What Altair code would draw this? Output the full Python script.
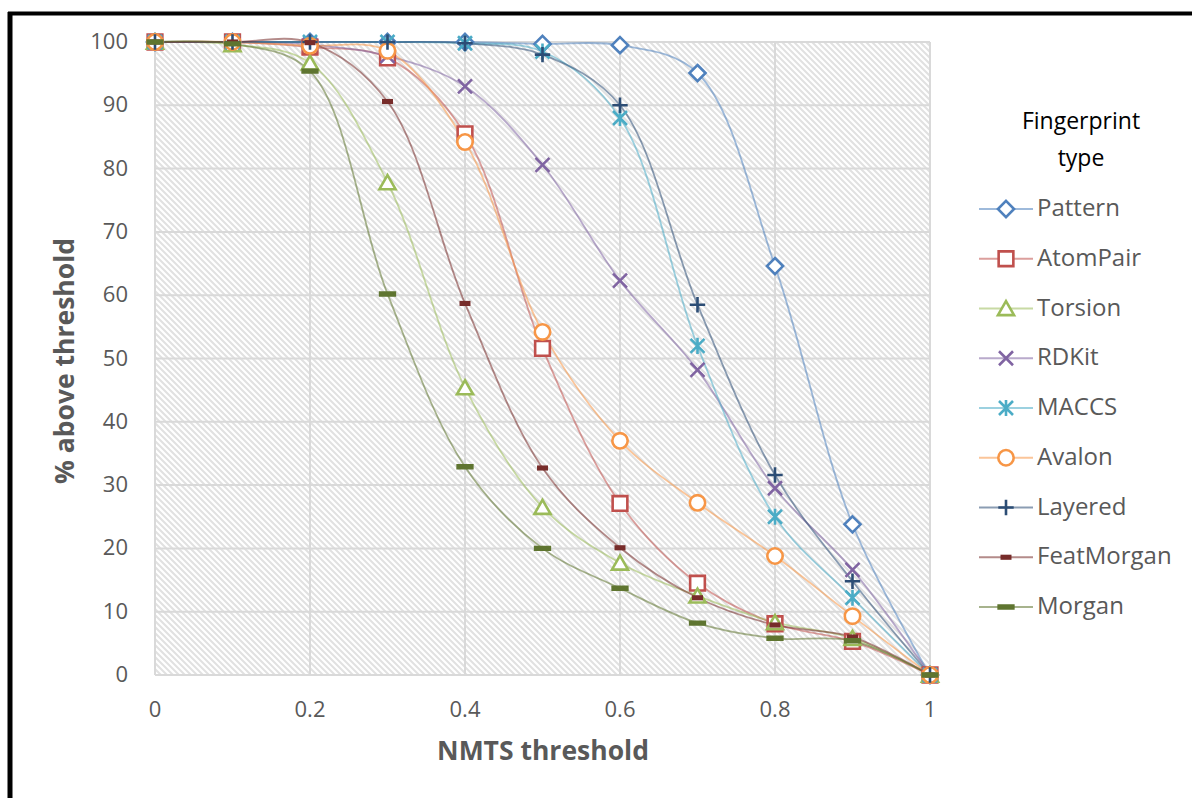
import altair as alt
import numpy as np
import pandas as pd

# NMTS threshold values (x) and % of pairs above each threshold, per fingerprint
thresholds = [0.0, 0.1, 0.2, 0.3, 0.4, 0.5, 0.6, 0.7, 0.8, 0.9, 1.0]

series_names = ["Pattern", "AtomPair", "Torsion", "RDKit", "MACCS",
                "Avalon", "Layered", "FeatMorgan", "Morgan"]

pattern    = [100, 100, 100, 100, 100, 99.7, 99.5, 95.1, 64.6, 23.8, 0]
atompair   = [100, 100, 99.2, 97.5, 85.5, 51.6, 27.1, 14.5, 8.1, 5.3, 0]
torsion    = [100, 99.6, 96.7, 77.8, 45.4, 26.5, 17.7, 12.5, 8.3, 5.8, 0]
rdkit      = [100, 100, 99.6, 97.8, 93.0, 80.6, 62.3, 48.2, 29.5, 16.6, 0]
maccs      = [100, 100, 100, 100, 99.8, 98.5, 88.0, 52.0, 25.0, 12.2, 0]
avalon     = [100, 100, 99.4, 98.6, 84.2, 54.2, 37.0, 27.2, 18.8, 9.3, 0]
layered    = [100, 100, 100, 100, 99.8, 98.0, 90.0, 58.5, 31.6, 14.8, 0]
featmorgan = [100, 100, 99.9, 90.6, 58.7, 32.7, 20.1, 12.2, 7.9, 6.0, 0]
morgan     = [100, 99.7, 95.4, 60.2, 32.9, 20.0, 13.7, 8.2, 5.8, 5.4, 0]

all_values = [pattern, atompair, torsion, rdkit, maccs,
              avalon, layered, featmorgan, morgan]

series_colors = ["#4F81BD", "#C0504D", "#9BBB59", "#8064A2", "#4BACC6",
                 "#F79646", "#2C4D75", "#772C2A", "#5F7530"]

# marker outlines (unit paths, scaled by the symbol size)
series_shapes = [
    "M0,-1.15L1.15,0L0,1.15L-1.15,0Z",                              # diamond
    "M-1.05,-1.05L1.05,-1.05L1.05,1.05L-1.05,1.05Z",                # square
    "M0,-1.05L1.15,0.95L-1.15,0.95Z",                               # triangle
    "M-1,-1L1,1M-1,1L1,-1",                                         # x
    "M-1,-1L1,1M-1,1L1,-1M0,-1.15L0,1.15",                          # asterisk
    "M1.1,0A1.1,1.1,0,1,1,-1.1,0A1.1,1.1,0,1,1,1.1,0Z",             # circle
    "M-1.1,0L1.1,0M0,-1.1L0,1.1",                                   # plus
    "M-0.6,-0.18L0.6,-0.18L0.6,0.18L-0.6,0.18Z",                    # short dash
    "M-1.05,-0.2L1.05,-0.2L1.05,0.2L-1.05,0.2Z",                    # long dash
]
# open markers get a white fill, the dashes are solid
series_fills = ["#FFFFFF"] * 7 + ["#772C2A", "#5F7530"]

x_ticks = [0, 0.2, 0.4, 0.6, 0.8, 1.0]
x_tick_labels = ["0", "0.2", "0.4", "0.6", "0.8", "1"]
y_ticks = [0, 10, 20, 30, 40, 50, 60, 70, 80, 90, 100]
y_tick_labels = ["0", "10", "20", "30", "40", "50", "60", "70", "80", "90", "100"]

x_title = "NMTS threshold"
y_title = "% above threshold"
legend_title = "Fingerprint\ntype"

PLOT_W, PLOT_H = 775, 633
TEXT_GRAY = "#595959"
GRID = "#D9D9D9"
FONT = "Open Sans"

rows = []
for name, vals in zip(series_names, all_values):
    for t, v in zip(thresholds, vals):
        rows.append({"series": name, "threshold": t, "pct": v})
df = pd.DataFrame(rows)

xs = alt.Scale(domain=[0, 1], nice=False, zero=False)
ys = alt.Scale(domain=[0, 100], nice=False, zero=False)

stroke_enc = alt.Stroke("series:N", scale=alt.Scale(domain=series_names, range=series_colors), legend=None)
shape_enc = alt.Shape("series:N", scale=alt.Scale(domain=series_names, range=series_shapes), legend=None)
fill_enc = alt.Fill("series:N", scale=alt.Scale(domain=series_names, range=series_fills), legend=None)

# diagonal hatching of the plot background
step = 6
offs = np.arange(-PLOT_H, PLOT_W + step, step)
hatch_df = pd.DataFrame({"x0": offs / PLOT_W, "x1": (offs + PLOT_H) / PLOT_W,
                         "v0": 100.0, "v1": 0.0})

hatch = alt.Chart(hatch_df).mark_rule(clip=True, stroke="#E1E1E1", strokeWidth=2).encode(
    x=alt.X("x0:Q", scale=xs, axis=None), x2="x1:Q",
    y=alt.Y("v0:Q", scale=ys, axis=None), y2="v1:Q",
)

vgrid = alt.Chart(pd.DataFrame({"t": x_ticks})).mark_rule(stroke=GRID, strokeWidth=2).encode(
    x=alt.X("t:Q", scale=xs, axis=None))
hgrid = alt.Chart(pd.DataFrame({"t": y_ticks})).mark_rule(stroke=GRID, strokeWidth=2).encode(
    y=alt.Y("t:Q", scale=ys, axis=None))

# tick labels and axis titles
x_labels = alt.Chart(pd.DataFrame({"t": x_ticks, "lab": x_tick_labels})).mark_text(
    align="center", baseline="middle", font=FONT, fontSize=22, color=TEXT_GRAY).encode(
    x=alt.X("t:Q", scale=xs, axis=None), y=alt.value(668), text="lab:N")
y_labels = alt.Chart(pd.DataFrame({"t": y_ticks, "lab": y_tick_labels})).mark_text(
    align="right", baseline="middle", font=FONT, fontSize=22, color=TEXT_GRAY).encode(
    y=alt.Y("t:Q", scale=ys, axis=None), x=alt.value(-27), text="lab:N")

one = pd.DataFrame({"k": [0]})
x_title_mark = alt.Chart(one).mark_text(
    align="center", baseline="middle", font=FONT, fontSize=26.5, fontWeight="bold",
    color=TEXT_GRAY).encode(x=alt.value(388), y=alt.value(710), text=alt.value(x_title))
y_title_mark = alt.Chart(one).mark_text(
    align="center", baseline="middle", font=FONT, fontSize=26.5, fontWeight="bold",
    color=TEXT_GRAY, angle=270).encode(x=alt.value(-89), y=alt.value(319), text=alt.value(y_title))

lines = alt.Chart(df).mark_line(interpolate="catmull-rom", strokeWidth=1.8,
                                strokeOpacity=0.55).encode(
    x=alt.X("threshold:Q", scale=xs, axis=None),
    y=alt.Y("pct:Q", scale=ys, axis=None),
    stroke=stroke_enc,
    detail="series:N",
)

points = alt.Chart(df).mark_point(filled=False, size=196, strokeWidth=2.6, opacity=1).encode(
    x=alt.X("threshold:Q", scale=xs, axis=None),
    y=alt.Y("pct:Q", scale=ys, axis=None),
    stroke=stroke_enc,
    shape=shape_enc,
    fill=fill_enc,
)

# legend drawn beside the plot, one row per series
leg_df = pd.DataFrame({"series": series_names, "row": list(range(len(series_names)))})
leg_y = alt.Y("row:Q", scale=alt.Scale(domain=[0, len(series_names) - 1], range=[167, 565]),
              axis=None)

leg_lines = alt.Chart(leg_df).mark_rule(strokeWidth=2, strokeOpacity=0.55).encode(
    x=alt.value(824), x2=alt.value(878), y=leg_y, stroke=stroke_enc)
leg_points = alt.Chart(leg_df).mark_point(filled=False, size=196, strokeWidth=2.6, opacity=1).encode(
    x=alt.value(851), y=leg_y, stroke=stroke_enc, shape=shape_enc, fill=fill_enc)
leg_text = alt.Chart(leg_df).mark_text(align="left", baseline="middle", font=FONT,
                                       fontSize=24, color=TEXT_GRAY).encode(
    x=alt.value(882), y=leg_y, text="series:N")

leg_title = alt.Chart(one).mark_text(align="center", baseline="middle", font=FONT,
                                     fontSize=23, color="#000000", lineBreak="\n",
                                     lineHeight=37).encode(
    x=alt.value(926), y=alt.value(80), text=alt.value(legend_title))

# frame around the figure
frame_top = alt.Chart(one).mark_rule(stroke="#000000", strokeWidth=4).encode(
    x=alt.value(-147), x2=alt.value(1040), y=alt.value(-28.5), y2=alt.value(-28.5))
frame_left = alt.Chart(one).mark_rule(stroke="#000000", strokeWidth=5).encode(
    x=alt.value(-145), x2=alt.value(-145), y=alt.value(-30), y2=alt.value(760))

chart = alt.layer(
    hatch, vgrid, hgrid, lines, points,
    x_labels, y_labels, x_title_mark, y_title_mark,
    leg_lines, leg_points, leg_text, leg_title,
    frame_top, frame_left,
).resolve_scale(
    y="independent"
).properties(
    width=PLOT_W, height=PLOT_H,
    autosize=alt.AutoSizeParams(type="none"),
    padding={"left": 155, "top": 42, "right": 262, "bottom": 123},
    background="#FFFFFF",
).configure_view(stroke=None)

chart.save("out.html", embed_options={"renderer": "svg", "actions": False})
